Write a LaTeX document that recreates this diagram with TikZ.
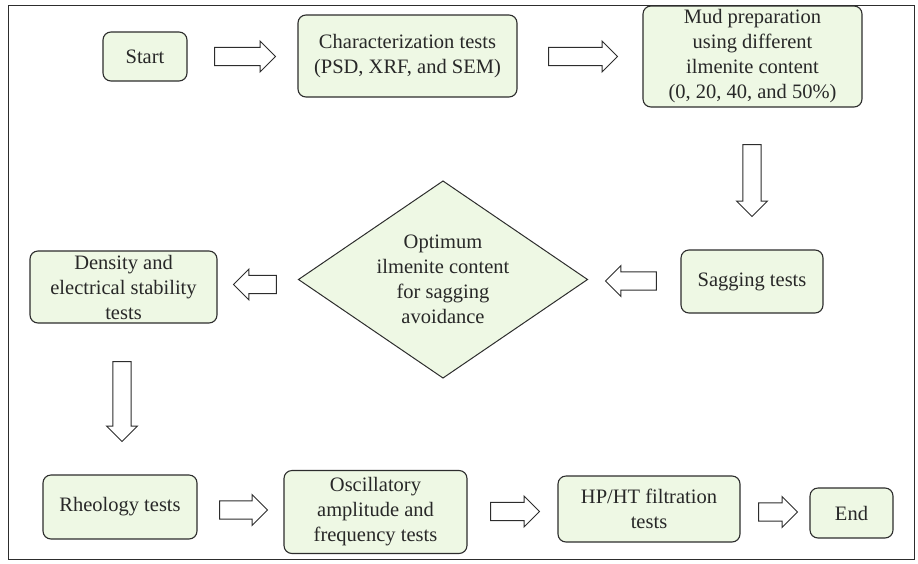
\documentclass[tikz,border=0pt]{standalone}
\usepackage{fontspec}
\setmainfont{Liberation Serif}
\usetikzlibrary{shapes.arrows}
\definecolor{boxfill}{RGB}{238,248,228}
\definecolor{boxline}{RGB}{45,45,45}
\definecolor{txt}{RGB}{40,40,40}
\begin{document}
\begin{tikzpicture}[x=1pt,y=-1pt,
  every node/.style={font=\fontsize{20.5}{25}\selectfont, text=txt},
  stepbox/.style={draw=boxline, line width=1.1pt, fill=boxfill, rounded corners=8pt,
     align=center, inner sep=0pt},
  blockarr/.style={single arrow, draw=boxline, line width=0.9pt, fill=white,
     inner xsep=0pt, inner ysep=8.7pt, single arrow head extend=6.3pt,
     single arrow tip angle=90, outer sep=0pt}
]
\useasboundingbox (0,0) rectangle (918,563);
\draw[boxline, line width=1pt] (8,5) rectangle (914,559);

% boxes
\node[stepbox, minimum width=84pt, minimum height=49pt] (start) at (145,56.5) {Start};
\node[stepbox, minimum width=219pt, minimum height=82pt] (char) at (407.5,56) {Characterization tests\\(PSD, XRF, and SEM)};
\node[stepbox, minimum width=219pt, minimum height=101pt] (mud) at (752.5,56.5) {Mud preparation\\using different\\ilmenite content\\(0, 20, 40, and 50\%)};
\node[stepbox, minimum width=142pt, minimum height=63pt] (sag) at (752,281.5) {Sagging tests};
\coordinate (dc) at (443,279.5);
\draw[boxline, line width=1pt, fill=boxfill] (298.5,279.5) -- (443,181) -- (587.5,279.5) -- (443,378) -- cycle;
\node[align=center, inner sep=0pt] (opt) at (dc) {Optimum\\ilmenite content\\for sagging\\avoidance};
\node[stepbox, minimum width=187pt, minimum height=72pt] (dens) at (123.5,287) {Density and\\electrical stability\\tests};
\node[stepbox, minimum width=154pt, minimum height=64pt] (rheo) at (120,507) {Rheology tests};
\node[stepbox, minimum width=183pt, minimum height=83pt] (osc) at (375.5,512) {Oscillatory\\amplitude and\\frequency tests};
\node[stepbox, minimum width=182pt, minimum height=66pt] (hpht) at (649,509) {HP/HT filtration\\tests};
\node[stepbox, minimum width=83pt, minimum height=50pt] (end) at (851.5,513) {End};

% block arrows
\node[blockarr, minimum height=61pt] (a1) at (240.5,56.5) {};
\node[blockarr, minimum height=69pt] (a2) at (578.5,56.5) {};
\node[blockarr, minimum height=72pt, rotate=-90] (a3) at (752,176) {};
\node[blockarr, minimum height=51pt, rotate=180] (a4) at (635.5,281) {};
\node[blockarr, minimum height=43pt, rotate=180] (a5) at (259.5,284.5) {};
\node[blockarr, minimum height=80pt, rotate=-90] (a6) at (122,397) {};
\node[blockarr, minimum height=48pt] (a7) at (239,510) {};
\node[blockarr, minimum height=49pt] (a8) at (510.5,511.5) {};
\node[blockarr, minimum height=39pt] (a9) at (773.5,512) {};
\end{tikzpicture}
\end{document}
